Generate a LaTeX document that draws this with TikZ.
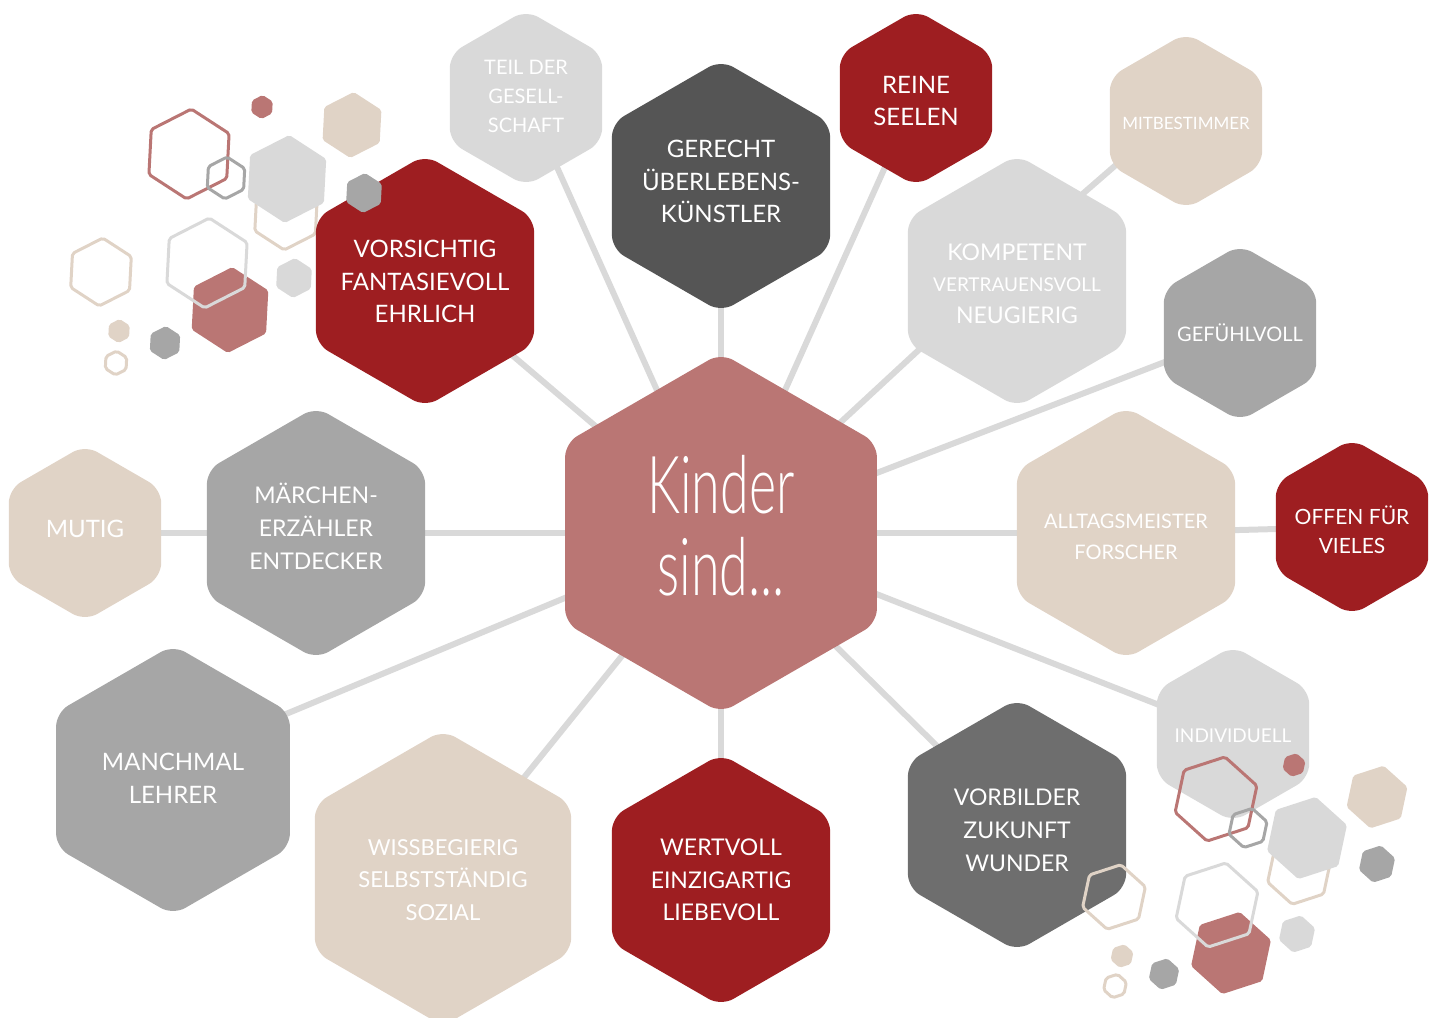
\documentclass[tikz,border=0pt]{standalone}
\usepackage{fontspec}
\setmainfont{Lato}
\newfontfamily\thinfont{Lato Light}[FakeStretch=0.65]
\usepackage{tikz}
\usetikzlibrary{shapes.geometric, backgrounds}

\definecolor{krot}{HTML}{9E1E21}
\definecolor{rose}{HTML}{BA7674}
\definecolor{dunkel}{HTML}{555555}
\definecolor{anthrazit}{HTML}{6E6E6E}
\definecolor{mittel}{HTML}{A6A6A6}
\definecolor{hell}{HTML}{D9D9D9}
\definecolor{sand}{HTML}{E0D3C6}

% small loose hexagon: style, centre, radius, rotation
\newcommand{\hexdeco}[4]{%
	\path[shift={(#2)}, rotate=#4, rounded corners=2pt, line join=round, #1]
	(90:#3) -- (150:#3) -- (210:#3) -- (270:#3) -- (330:#3) -- (30:#3) -- cycle;}

% centred lines of text that take no room, so the hexagon keeps its size
\newcommand{\hextext}[2][0pt]{%
	\makebox[0pt]{\raisebox{\dimexpr#1-0.25em-3pt\relax}[0pt][0pt]{\begin{tabular}{@{}c@{}}#2\end{tabular}}}}

\begin{document}
\begin{tikzpicture}[x=1pt, y=-1pt, % one unit is one pixel, y runs downwards
		hexa/.style={regular polygon, regular polygon sides=6, shape border rotate=30,
			inner sep=0pt, outer sep=0pt, rounded corners=14pt, text=white},
		big/.style={hexa, minimum size=252pt},
		small/.style={hexa, minimum size=176pt},
		link/.style={draw=hell, line width=6pt},
		ring/.style={draw=#1, line width=3pt},
		fz/.style 2 args={font=\fontsize{#1}{#2}\selectfont}]
	
	\useasboundingbox (0,0) rectangle (1437,1017);
	
	% outlines lying behind the big hexagons
	\hexdeco{ring=sand}{286,215}{35}{-3}
	\hexdeco{ring=sand}{1299,872}{33}{-12}
	
	% centre
	\node[hexa, minimum size=360pt, fill=rose, font=\thinfont\fontsize{80}{80}\selectfont] (kinder) at (721,533) {\hextext[12pt]{Kinder\\sind...}};
	
	% upper row
	\node[small, fill=hell, fz={20}{29}] (teil) at (526,98) {\hextext[3pt]{TEIL DER\\GESELL-\\SCHAFT}};
	\node[big, fill=dunkel, fz={24}{32.5}] (gerecht) at (721,186) {\hextext[5pt]{GERECHT\\ÜBERLEBENS-\\KÜNSTLER}};
	\node[small, fill=krot, fz={24}{32}] (reine) at (916,98) {\hextext[-2pt]{REINE\\SEELEN}};
	\node[small, fill=sand, fz={17}{22}] (mitbest) at (1186,121) {\hextext[-1pt]{MITBESTIMMER}};
	\node[big, fill=krot, fz={24}{32.5}] (vorsicht) at (425,281) {\hextext{VORSICHTIG\\FANTASIEVOLL\\EHRLICH}};
	\node[big, fill=hell, fz={23}{31.5}] (kompetent) at (1017,281) {\hextext[-2pt]{KOMPETENT\\{\fontsize{19}{31.5}\selectfont VERTRAUENSVOLL}\\NEUGIERIG}};
	\node[small, fill=mittel, fz={20}{28}] (gefuehl) at (1240,333) {\hextext{GEFÜHLVOLL}};
	
	% middle row
	\node[small, fill=sand, fz={24}{30}] (mutig) at (85,533) {\hextext[4pt]{MUTIG}};
	\node[big, fill=mittel, fz={23}{33}] (maerchen) at (316,533) {\hextext[6pt]{MÄRCHEN-\\ERZÄHLER\\ENTDECKER}};
	\node[big, fill=sand, fz={20}{31}] (alltag) at (1126,533) {\hextext[-2pt]{ALLTAGSMEISTER\\FORSCHER}};
	\node[small, fill=krot, fz={21}{29}] (offen) at (1352,527) {\hextext[-3pt]{OFFEN FÜR\\VIELES}};
	
	% lower row
	\node[small, fill=hell, fz={19}{26}] (indiv) at (1233,734) {\hextext{INDIVIDUELL}};
	\node[hexa, minimum size=270pt, fill=mittel, fz={24}{33}] (manchmal) at (173,780) {\hextext[2pt]{MANCHMAL\\LEHRER}};
	\node[hexa, minimum size=296pt, fill=sand, fz={22}{32.5}] (wiss) at (443,878) {\hextext{WISSBEGIERIG\\SELBSTSTÄNDIG\\SOZIAL}};
	\node[big, fill=krot, fz={23}{32.5}] (wert) at (721,880) {\hextext[1pt]{WERTVOLL\\EINZIGARTIG\\LIEBEVOLL}};
	\node[big, fill=anthrazit, fz={23}{33}] (vorbild) at (1017,825) {\hextext[-4pt]{VORBILDER\\ZUKUNFT\\WUNDER}};
	
	% spokes
	\begin{scope}[on background layer]
		\draw[link] (kinder.center) -- (teil.center);
		\draw[link] (kinder.center) -- (gerecht.center);
		\draw[link] (kinder.center) -- (reine.center);
		\draw[link] (kinder.center) -- (vorsicht.center);
		\draw[link] (kinder.center) -- ([yshift=22pt]kompetent.center);
		\draw[link] ([yshift=30pt]kompetent.center) -- ([yshift=17pt]mitbest.center);
		\draw[link] (kinder.center) -- (gefuehl.center);
		\draw[link] (kinder.center) -- (maerchen.center);
		\draw[link] (maerchen.center) -- (mutig.center);
		\draw[link] (kinder.center) -- (alltag.center);
		\draw[link] (alltag.center) -- (offen.center);
		\draw[link] (kinder.center) -- (indiv.center);
		\draw[link] (kinder.center) -- ([yshift=19pt]manchmal.center);
		\draw[link] (kinder.center) -- (wiss.center);
		\draw[link] (kinder.center) -- (wert.center);
		\draw[link] (kinder.center) -- (vorbild.center);
	\end{scope}
	
	% loose hexagons, top left
	\hexdeco{ring=rose}{189,154}{45}{-3}
	\hexdeco{ring=mittel}{226,178}{21}{-3}
	\hexdeco{fill=rose}{262,107}{12}{-3}
	\hexdeco{fill=sand}{352,125}{33}{-3}
	\hexdeco{fill=hell}{287,179}{44}{-3}
	\hexdeco{fill=mittel}{364,193}{20}{-3}
	\hexdeco{ring=sand}{101,272}{34}{-3}
	\hexdeco{fill=rose}{230,310}{43}{-3}
	\hexdeco{ring=hell}{207,263}{45}{-3}
	\hexdeco{fill=hell}{294,278}{20}{-3}
	\hexdeco{fill=sand}{119,331}{12}{-3}
	\hexdeco{fill=mittel}{165,343}{17}{-3}
	\hexdeco{ring=sand}{116,363}{12}{-3}
	
	% loose hexagons, bottom right
	\hexdeco{ring=rose}{1216,799}{43}{-12}
	\hexdeco{ring=mittel}{1248,828}{20}{-12}
	\hexdeco{fill=rose}{1294,765}{12}{-12}
	\hexdeco{fill=sand}{1377,797}{32}{-12}
	\hexdeco{fill=hell}{1307,838}{42}{-12}
	\hexdeco{fill=mittel}{1377,864}{19}{-12}
	\hexdeco{fill=rose}{1231,953}{42}{-12}
	\hexdeco{ring=hell}{1217,905}{43}{-12}
	\hexdeco{fill=hell}{1297,934}{19}{-12}
	\hexdeco{ring=sand}{1114,897}{33}{-12}
	\hexdeco{fill=sand}{1122,956}{12}{-12}
	\hexdeco{fill=mittel}{1164,974}{16}{-12}
	\hexdeco{ring=sand}{1115,986}{12}{-12}
	
\end{tikzpicture}
\end{document}
